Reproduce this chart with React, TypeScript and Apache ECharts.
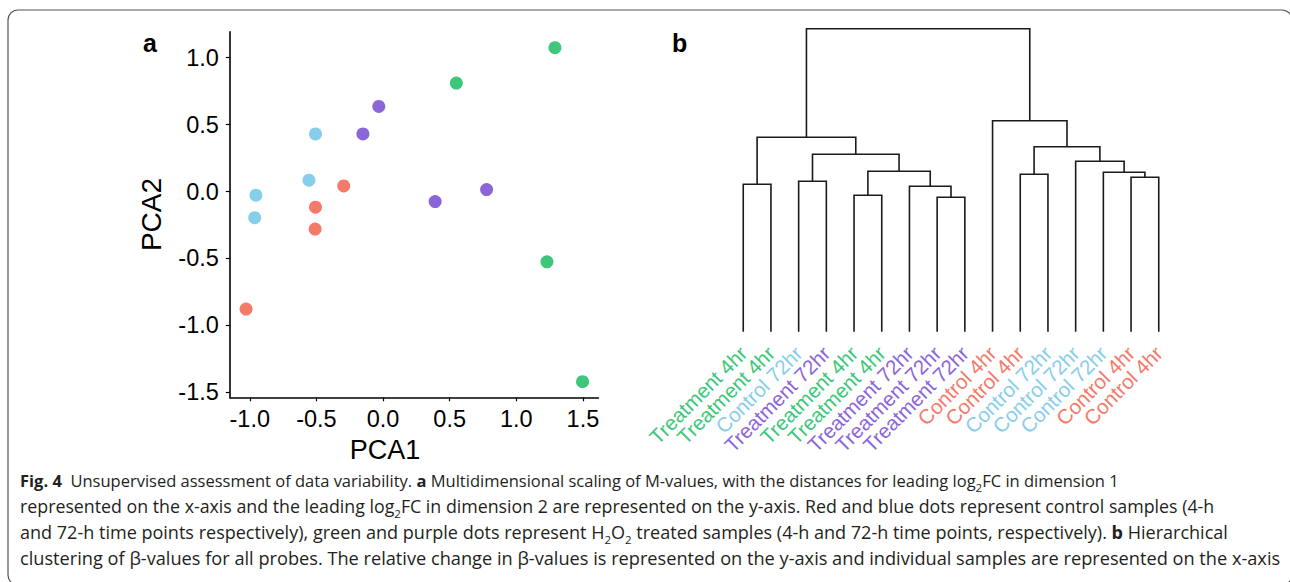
import React, { useEffect, useRef } from "react";
import * as echarts from "echarts";

// ---------- Panel a: MDS scatter ----------
const groupNames = ["Control 4hr", "Control 72hr", "Treatment 4hr", "Treatment 72hr"];
const groupColors = ["#F47A6A", "#87CEEB", "#3CC77A", "#8B66D9"];

const control4X = [-0.295, -0.507, -0.51, -1.028];
const control4Y = [0.042, -0.117, -0.28, -0.878];
const control72X = [-0.507, -0.556, -0.954, -0.963];
const control72Y = [0.43, 0.085, -0.027, -0.195];
const treat4X = [1.29, 0.55, 1.23, 1.497];
const treat4Y = [1.075, 0.81, -0.525, -1.42];
const treat72X = [-0.032, -0.151, 0.777, 0.391];
const treat72Y = [0.636, 0.43, 0.015, -0.075];

const xTicks = [-1.0, -0.5, 0.0, 0.5, 1.0, 1.5];
const yTicks = [-1.5, -1.0, -0.5, 0.0, 0.5, 1.0];

// ---------- Panel b: dendrogram ----------
const leafLabels = [
  "Treatment 4hr", "Treatment 4hr", "Control 72hr", "Treatment 72hr",
  "Treatment 4hr", "Treatment 4hr", "Treatment 72hr", "Treatment 72hr",
  "Treatment 72hr", "Control 4hr", "Control 4hr", "Control 72hr",
  "Control 72hr", "Control 72hr", "Control 4hr", "Control 4hr",
];
const leafGroups = [2, 2, 1, 3, 2, 2, 3, 3, 3, 0, 0, 1, 1, 1, 0, 0];
// hclust-style merge matrix: negative = leaf (1-based display order), positive = earlier merge (1-based)
const merges = [
  [-8, -9], [-5, -6], [-7, 1], [-1, -2], [-3, -4], [-15, -16], [-11, -12],
  [-14, 6], [2, 3], [-13, 8], [5, 9], [7, 10], [4, 11], [-10, 12], [13, 14],
];
const mergeHeights = [
  0.269, 0.273, 0.291, 0.295, 0.301, 0.309, 0.315,
  0.319, 0.321, 0.341, 0.355, 0.37, 0.389, 0.422, 0.606,
];

// ---------- Caption ----------
const captionLines = [
  "{b|Fig. 4}  Unsupervised assessment of data variability. {b|a} Multidimensional scaling of M-values, with the distances for leading log{s|2}FC in dimension 1",
  "represented on the x-axis and the leading log{s|2}FC in dimension 2 are represented on the y-axis. Red and blue dots represent control samples (4-h",
  "and 72-h time points respectively), green and purple dots represent H{s|2}O{s|2} treated samples (4-h and 72-h time points, respectively). {b|b} Hierarchical",
  "clustering of β-values for all probes. The relative change in β-values is represented on the y-axis and individual samples are represented on the x-axis",
];
const captionSizes = [16.5, 17.8, 18.05, 18.2];

const FONT = "'Liberation Sans', Arial, Helvetica, sans-serif";
const CAP_FONT = "'Open Sans', 'Noto Sans', sans-serif";

function zip(xs: number[], ys: number[]) {
  return xs.map((x, i) => [x, ys[i]]);
}

function buildDendro() {
  const nodeX: number[] = [];
  const nodeH: number[] = [];
  const child = (c: number) =>
    c < 0 ? { x: -c - 1, h: 0 } : { x: nodeX[c - 1], h: nodeH[c - 1] };
  const segs: number[][] = [];
  merges.forEach((m, i) => {
    const a = child(m[0]);
    const b = child(m[1]);
    const h = mergeHeights[i];
    nodeX.push((a.x + b.x) / 2);
    nodeH.push(h);
    segs.push([(a.x + b.x) / 2, h, a.x, a.h, b.x, b.h]);
  });
  return segs;
}

export default function App() {
  const ref = useRef<HTMLDivElement>(null);
  useEffect(() => {
    if (!ref.current) return;
    const chart = echarts.init(ref.current, null, { renderer: "svg" });
    const segs = buildDendro();
    const series: any[] = [
      [control4X, control4Y],
      [control72X, control72Y],
      [treat4X, treat4Y],
      [treat72X, treat72Y],
    ].map((d, i) => ({
      name: groupNames[i],
      type: "scatter",
      xAxisIndex: 0,
      yAxisIndex: 0,
      data: zip(d[0], d[1]),
      symbolSize: 13,
      itemStyle: { color: groupColors[i], opacity: 1 },
    }));
    series.push({
      type: "custom",
      xAxisIndex: 1,
      yAxisIndex: 1,
      clip: false,
      data: segs,
      encode: { x: 0, y: 1 },
      renderItem: (params: any, api: any) => {
        const s = segs[params.dataIndex];
        const h = s[1];
        const p1 = api.coord([s[2], s[3]]);
        const p2 = api.coord([s[2], h]);
        const p3 = api.coord([s[4], h]);
        const p4 = api.coord([s[4], s[5]]);
        return {
          type: "polyline",
          shape: { points: [p1, p2, p3, p4] },
          style: { stroke: "#1a1a1a", lineWidth: 1.6, fill: null },
        };
      },
    });

    const axisLineStyle = { color: "#000", width: 1.6 };
    const captionGraphics = captionLines.map((line, i) => ({
      type: "text",
      x: 20,
      y: 467 + i * 26,
      style: {
        text: line,
        fontSize: captionSizes[i],
        lineHeight: 26,
        fontFamily: CAP_FONT,
        fill: "#231f20",
        rich: {
          b: { fontSize: captionSizes[i], fontWeight: "bold", lineHeight: 26, fontFamily: CAP_FONT, fill: "#231f20" },
          s: { fontSize: 11.5, lineHeight: 18, verticalAlign: "bottom", fontFamily: CAP_FONT, fill: "#231f20" },
        },
      },
    }));
    const option: any = {
      animation: false,
      backgroundColor: "#fff",
      textStyle: { fontFamily: FONT },
      grid: [
        { left: 229.8, top: 31.7, width: 368.6, height: 365.6 },
        { left: 729.4, top: 28.7, width: 443.2, height: 303 },
      ],
      xAxis: [
        {
          gridIndex: 0,
          type: "value",
          min: -1.15,
          max: 1.616,
          axisLine: { show: true, onZero: false, lineStyle: axisLineStyle },
          axisTick: { show: true, length: 4, customValues: xTicks, lineStyle: { color: "#000", width: 1.2 } },
          axisLabel: {
            customValues: xTicks,
            formatter: (v: number) => Number(v).toFixed(1),
            fontSize: 23.5,
            color: "#000",
            margin: 10,
            fontFamily: FONT,
          },
          splitLine: { show: false },
          name: "PCA1",
          nameLocation: "middle",
          nameGap: 29,
          nameTextStyle: { fontSize: 27, color: "#000", fontFamily: FONT, padding: [0, 58, 0, 0] },
        },
        {
          // numeric leaf positions for the dendrogram links
          gridIndex: 1,
          type: "value",
          position: "top",
          min: -0.5,
          max: 15.5,
          show: false,
        },
        {
          // leaf labels
          gridIndex: 1,
          type: "category",
          position: "bottom",
          data: leafLabels,
          boundaryGap: true,
          axisLine: { show: false },
          axisTick: { show: false },
          splitLine: { show: false },
          axisLabel: {
            interval: 0,
            rotate: 45,
            fontSize: 20.5,
            margin: 18,
            fontFamily: FONT,
            color: (_v: any, idx: number) => groupColors[leafGroups[idx]],
          },
        },
      ],
      yAxis: [
        {
          gridIndex: 0,
          type: "value",
          min: -1.537,
          max: 1.194,
          axisLine: { show: true, onZero: false, lineStyle: axisLineStyle },
          axisTick: { show: true, length: 4, customValues: yTicks, lineStyle: { color: "#000", width: 1.2 } },
          axisLabel: {
            customValues: yTicks,
            formatter: (v: number) => Number(v).toFixed(1),
            fontSize: 23.5,
            color: "#000",
            margin: 11,
            fontFamily: FONT,
          },
          splitLine: { show: false },
          name: "PCA2",
          nameLocation: "middle",
          nameGap: 64,
          nameRotate: 90,
          nameTextStyle: { fontSize: 28, color: "#000", fontFamily: FONT },
        },
        {
          gridIndex: 1,
          type: "value",
          min: 0,
          max: 0.606,
          show: false,
        },
      ],
      series,
      graphic: [
        {
          type: "rect",
          shape: { x: 8, y: 10, width: 1284, height: 575, r: 10 },
          style: { stroke: "#555", lineWidth: 1.2, fill: "none" },
          silent: true,
        },
        {
          type: "text",
          x: 143,
          y: 30,
          style: { text: "a", fontSize: 25, fontWeight: "bold", fontFamily: FONT, fill: "#000" },
        },
        {
          type: "text",
          x: 672,
          y: 30,
          style: { text: "b", fontSize: 25, fontWeight: "bold", fontFamily: FONT, fill: "#000" },
        },
        ...captionGraphics,
      ],
    };
    chart.setOption(option);
    return () => chart.dispose();
  }, []);
  return (
    <div
      ref={ref}
      style={{ position: "absolute", left: 0, top: 0, width: 1290, height: 582 }}
    />
  );
}
